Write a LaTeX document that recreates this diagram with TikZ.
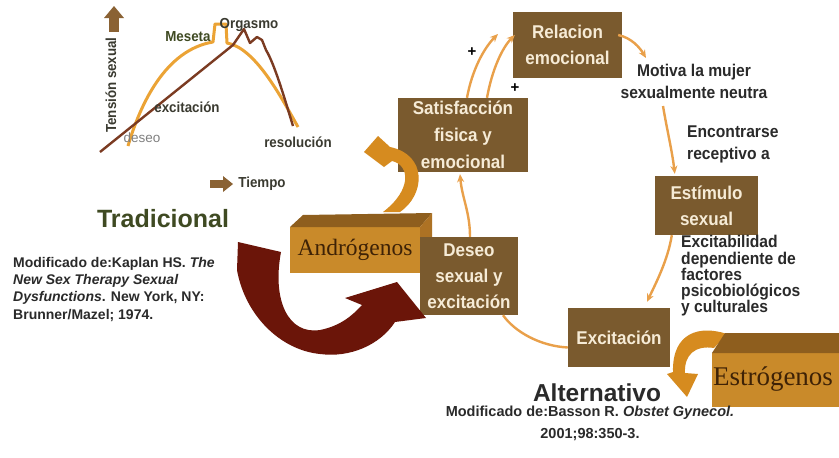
\documentclass[tikz,border=0pt]{standalone}
\usepackage{fontspec}
\setmainfont{Liberation Serif}
\newfontfamily\sansf{Liberation Sans}
\newfontfamily\condf[FakeStretch=0.92]{Liberation Sans}
\usetikzlibrary{arrows.meta,calc}
\definecolor{boxbrown}{HTML}{7A5A2E}
\definecolor{boxtext}{HTML}{F6EBD6}
\definecolor{thinor}{HTML}{E9A04A}
\definecolor{bigor}{HTML}{D68B1F}
\definecolor{cubefront}{HTML}{C98A2A}
\definecolor{cubetop}{HTML}{8E5E1E}
\definecolor{cubeside}{HTML}{AD7224}
\definecolor{darkred}{HTML}{6B1509}
\definecolor{graphor}{HTML}{EBA335}
\definecolor{graphbr}{HTML}{7B3B22}
\definecolor{txtdark}{HTML}{2A2A2A}
\definecolor{txtolive}{HTML}{3F4A22}
\definecolor{txtgraph}{HTML}{3A3A30}
\definecolor{cubetext}{HTML}{3E2206}
\definecolor{blockarr}{HTML}{8A6234}
\tikzset{
  bbox/.style={fill=boxbrown, text=boxtext, font=\condf\bfseries\fontsize{18.5}{26}\selectfont, align=center, inner sep=0pt},
  thinarrow/.style={draw=thinor, line width=2.4pt, -{Stealth[length=8pt,width=7pt]}},
  thinline/.style={draw=thinor, line width=2.4pt},
  annot/.style={text=txtdark, inner sep=0pt},
  glabel/.style={text=txtgraph, font=\condf\bfseries\fontsize{14.5}{15}\selectfont, inner sep=0pt},
  plussign/.style={text=black, font=\sansf\bfseries\fontsize{15}{15}\selectfont, inner sep=0pt},
}
\begin{document}
\begin{tikzpicture}[x=1pt,y=-1pt]
\useasboundingbox (0,0) rectangle (839,458);
\fill[white] (0,0) rectangle (839,458);

% ---- traditional graph ----
\draw[graphor, line width=3pt, line join=round]
  (128,146) .. controls (140,105) and (165,50) .. (213,42) -- (215,24) -- (226,24) -- (227,43)
  .. controls (255,48) and (280,95) .. (298,127);
\draw[graphbr, line width=2.4pt, line join=round]
  (100,152) -- (233,45) -- (244,29) -- (250,43) -- (257,37) -- (262,40) -- (266,50)
  .. controls (275,65) and (285,100) .. (293,126);
\fill[blockarr] (104,18) -- (114,6) -- (124,18) -- cycle;
\fill[blockarr] (109,18) rectangle (119,32);
\fill[blockarr] (210,180) rectangle (223,188);
\fill[blockarr] (223,176) -- (233,184) -- (223,192) -- cycle;
\node[glabel, rotate=90] (tens) at (111,85) {Tensión sexual};
\node[glabel, text=txtolive] (mes) at (188,37) {Meseta};
\node[glabel] (org) at (249,25) {Orgasmo};
\node[glabel] (excg) at (187,107) {excitación};
\node[text=gray, font=\sansf\fontsize{13.5}{14}\selectfont, inner sep=0pt] (des0) at (142,138) {deseo};
\node[glabel] (reso) at (298,142) {resolución};
\node[glabel] (tiem) at (262,184) {Tiempo};
\node[text=txtolive, font=\sansf\bfseries\fontsize{25}{25}\selectfont, inner sep=0pt] (trad) at (163,219) {Tradicional};
\node[anchor=north west, align=left, text=txtdark, font=\sansf\bfseries\fontsize{14}{17.3}\selectfont, inner sep=0pt] (kap) at (13,257)
  {Modificado de:Kaplan HS. \textit{The}\\ \textit{New Sex Therapy Sexual}\\ \textit{Dysfunctions}. New York, NY:\\ Brunner/Mazel; 1974.};

% ---- boxes ----
\node[bbox, minimum width=109pt, minimum height=66pt] (rel) at (567.5,45) {Relacion\\emocional};
\node[bbox, minimum width=130pt, minimum height=74pt, font=\condf\bfseries\fontsize{18.5}{27}\selectfont] (sat) at (463,135) {Satisfacción\\fisica y\\emocional};
\node[bbox, minimum width=103pt, minimum height=59pt] (est) at (706.5,205.5) {Estímulo\\sexual};
\node[bbox, minimum width=102pt, minimum height=59pt] (exc) at (619,337.5) {Excitación};

% ---- annotations ----
\node[annot, align=center, font=\condf\bfseries\fontsize{17}{22}\selectfont] (mot) at (694,81) {Motiva la mujer\\sexualmente neutra};
\node[annot, align=left, anchor=west, font=\condf\bfseries\fontsize{17}{22}\selectfont] (enc) at (687,144) {Encontrarse\\receptivo a};
\node[annot, align=left, anchor=west, font=\condf\bfseries\fontsize{17}{16.3}\selectfont] (exb) at (681,276) {Excitabilidad\\dependiente de\\factores\\psicobiológicos\\y culturales};
\node[plussign] (p1) at (472,52) {+};
\node[plussign] (p2) at (515,88) {+};

% ---- thin connectors ----
\coordinate (tA) at (498,34);
\coordinate (tM) at (646,58);
\coordinate (m4) at (663,106);
\draw[thinarrow] ($(sat.north)+(4,0)$) .. controls (472,70) and (484,48) .. (tA);
\draw[thinarrow] ($(sat.north)+(24,0)$) .. controls (492,70) and (502,48) .. ($(rel.west)+(2,-10)$);
\draw[thinarrow] ($(rel.east)+(-4,-10)$) .. controls (632,38) and (640,48) .. (tM);
\draw[thinarrow] (m4) .. controls (667,130) and (672,150) .. ($(est.north west)+(20,-2)$);
\draw[thinarrow] ($(est.south west)+(17,0)$) .. controls (668,260) and (655,285) .. ($(exc.north)+(28,-6)$);

% ---- big orange arrow near Satisfaccion ----
\fill[bigor] (400,212) .. controls (425,195) and (428,155) .. (390,147) -- (378,136) -- (364,152) -- (384,167) -- (392,161)
  .. controls (410,165) and (412,190) .. (383,212) -- cycle;

% ---- Androgenos cube ----
\fill[cubefront] (290,227) rectangle (420,273);
\fill[cubetop] (290,227) -- (303,215) -- (432,213) -- (420,227) -- cycle;
\fill[cubeside] (420,227) -- (432,213) -- (432,260) -- (420,273) -- cycle;
\node[text=cubetext, font=\fontsize{23.5}{24}\selectfont, inner sep=0pt] (andr) at (355,250) {Andrógenos};

% ---- Deseo box ----
\node[bbox, minimum width=98pt, minimum height=78pt] (des) at (469,276) {Deseo\\sexual y\\excitación};
\draw[thinline] ($(exc.west)+(0,10)$) .. controls (540,346) and (515,332) .. ($(des.south)+(34,0)$);
\draw[thinarrow] ($(des.north)+(1,0)$) .. controls (470,212) and (462,198) .. ($(sat.south)+(-3,2)$);

% ---- dark red arrow ----
\fill[darkred] (238,242) -- (281,252) .. controls (272,300) and (288,335) .. (320,330)
  .. controls (340,326) and (352,316) .. (362,305) -- (345,298) -- (397,282) -- (426,318) -- (395,322)
  .. controls (380,345) and (350,358) .. (320,354) .. controls (280,350) and (245,315) .. (237,270) -- cycle;

% ---- Estrogenos ----
\fill[bigor] (727,334) .. controls (700,325) and (672,332) .. (673,372) -- (667,374) -- (687,397) -- (698,374) -- (685,373)
  .. controls (684,355) and (695,345) .. (714,348) -- cycle;
\fill[cubefront] (712,353) rectangle (850,407);
\fill[cubetop] (712,353) -- (725,333) -- (850,333) -- (850,353) -- cycle;
\node[text=cubetext, font=\fontsize{27}{28}\selectfont, inner sep=0pt] (estr) at (773,379) {Estrógenos};

\node[text=txtdark, font=\sansf\bfseries\fontsize{24.5}{25}\selectfont, inner sep=0pt] (alt) at (597,393) {Alternativo};
\node[align=center, text=txtdark, font=\sansf\bfseries\fontsize{14.5}{22}\selectfont, inner sep=0pt] (bas) at (590,423)
  {Modificado de:Basson R. \textit{Obstet Gynecol.}\\ 2001;98:350-3.};
\end{tikzpicture}
\end{document}
